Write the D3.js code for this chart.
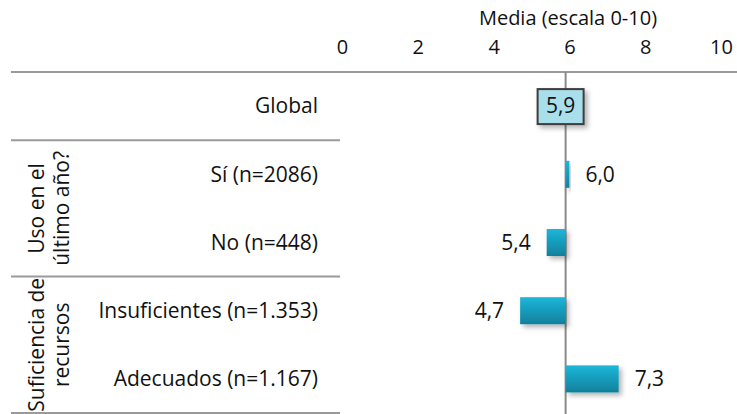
<!DOCTYPE html>
<html>
<head>
<meta charset="utf-8">
<script src="https://cdn.jsdelivr.net/npm/d3@7"></script>
<style>
  html, body { margin: 0; padding: 0; background: #fff; }
  svg { display: block; font-family: "Open Sans", Lato, sans-serif; }
</style>
</head>
<body>
<svg id="chart" width="737" height="414"></svg>
<script>
// Mean scores (0-10 scale)
const categories = ["Global", "Sí (n=2086)", "No (n=448)", "Insuficientes (n=1.353)", "Adecuados (n=1.167)"];
const values = [5.9, 6.0, 5.4, 4.7, 7.3];
const globalValue = 5.9;
const tickValues = [0, 2, 4, 6, 8, 10];
const groups = [
  { lines: ["Uso en el", "último año?"], from: 1, to: 2 },
  { lines: ["Suficiencia de", "recursos"], from: 3, to: 4 }
];
const fmt = v => d3.format(".1f")(v).replace(".", ",");

const FONT = "'Open Sans', Lato, sans-serif";
const FS = 21;
const FS_AXIS = 20;

const svg = d3.select("#chart");
const W = 737, H = 414;

const x = d3.scaleLinear().domain([0, 10]).range([342, 721]);
const y = d3.scaleBand().domain(categories).range([72, 413]);

// defs: bar gradient and shadow
const defs = svg.append("defs");
const grad = defs.append("linearGradient").attr("id", "barGrad")
  .attr("x1", 0).attr("y1", 0).attr("x2", 0).attr("y2", 1);
grad.append("stop").attr("offset", "0%").attr("stop-color", "#1db6da");
grad.append("stop").attr("offset", "100%").attr("stop-color", "#10809c");
const sh = defs.append("filter").attr("id", "shadow")
  .attr("x", "-20%").attr("y", "-20%").attr("width", "160%").attr("height", "160%");
sh.append("feDropShadow").attr("dx", 3).attr("dy", 3).attr("stdDeviation", 2.5)
  .attr("flood-color", "#000").attr("flood-opacity", 0.3);

// axis title and tick labels
svg.append("text").attr("x", 568).attr("y", 25).attr("text-anchor", "middle")
  .attr("font-size", FS_AXIS).attr("fill", "#111").text("Media (escala 0-10)");
const axis = svg.append("g").attr("transform", "translate(0,54)")
  .call(d3.axisTop(x).tickValues(tickValues).tickSize(0).tickPadding(0).tickFormat(d3.format("d")));
axis.select(".domain").remove();
axis.selectAll("text").attr("font-size", FS_AXIS).attr("fill", "#111")
  .attr("font-family", FONT).attr("dy", 0);

// horizontal rules
const rule = "#9a9a9a";
svg.append("line").attr("x1", 11).attr("x2", W).attr("y1", 72).attr("y2", 72)
  .attr("stroke", rule).attr("stroke-width", 2);
[y(categories[1]), y(categories[3]), 413].forEach(yy => {
  svg.append("line").attr("x1", 11).attr("x2", 340).attr("y1", yy).attr("y2", yy)
    .attr("stroke", rule).attr("stroke-width", 2);
});

// vertical reference line at the global mean
svg.append("line").attr("x1", x(globalValue)).attr("x2", x(globalValue))
  .attr("y1", 72).attr("y2", H).attr("stroke", "#8a8a8a").attr("stroke-width", 2);

// category labels
svg.append("g").selectAll("text").data(categories).join("text")
  .attr("x", 318).attr("y", d => y(d) + y.bandwidth() / 2)
  .attr("dy", "0.35em").attr("text-anchor", "end")
  .attr("font-size", FS).attr("fill", "#111").text(d => d);

// group labels (rotated)
groups.forEach(g => {
  const cy = (y(categories[g.from]) + y(categories[g.to]) + y.bandwidth()) / 2;
  g.lines.forEach((t, i) => {
    svg.append("text")
      .attr("transform", `translate(${37 + i * 25},${cy}) rotate(-90)`)
      .attr("text-anchor", "middle").attr("dy", "0.35em")
      .attr("font-size", FS).attr("fill", "#111").text(t);
  });
});

// bars from the global mean to each subgroup mean
const barH = 27;
const rows = categories.map((c, i) => ({ c, v: values[i] })).slice(1);
svg.append("g").selectAll("rect").data(rows).join("rect")
  .attr("x", d => Math.min(x(globalValue), x(d.v)))
  .attr("width", d => Math.abs(x(d.v) - x(globalValue)))
  .attr("y", d => y(d.c) + y.bandwidth() / 2 - barH / 2)
  .attr("height", barH)
  .attr("fill", "url(#barGrad)")
  .attr("filter", "url(#shadow)");

// value labels
svg.append("g").selectAll("text").data(rows).join("text")
  .attr("x", d => d.v >= globalValue ? x(d.v) + 16 : x(d.v) - 16)
  .attr("y", d => y(d.c) + y.bandwidth() / 2)
  .attr("dy", "0.35em")
  .attr("text-anchor", d => d.v >= globalValue ? "start" : "end")
  .attr("font-size", FS).attr("fill", "#111").text(d => fmt(d.v));

// global value box
const gy = y(categories[0]) + y.bandwidth() / 2;
const gx = x(values[0]) - 5;
svg.append("rect").attr("x", gx - 23).attr("y", gy - 17).attr("width", 46).attr("height", 35)
  .attr("fill", "#a8dfeb").attr("stroke", "#3c3c3c").attr("stroke-width", 2)
  .attr("filter", "url(#shadow)");
svg.append("text").attr("x", gx).attr("y", gy).attr("dy", "0.35em")
  .attr("text-anchor", "middle").attr("font-size", FS).attr("fill", "#111")
  .text(fmt(values[0]));
</script>
</body>
</html>
